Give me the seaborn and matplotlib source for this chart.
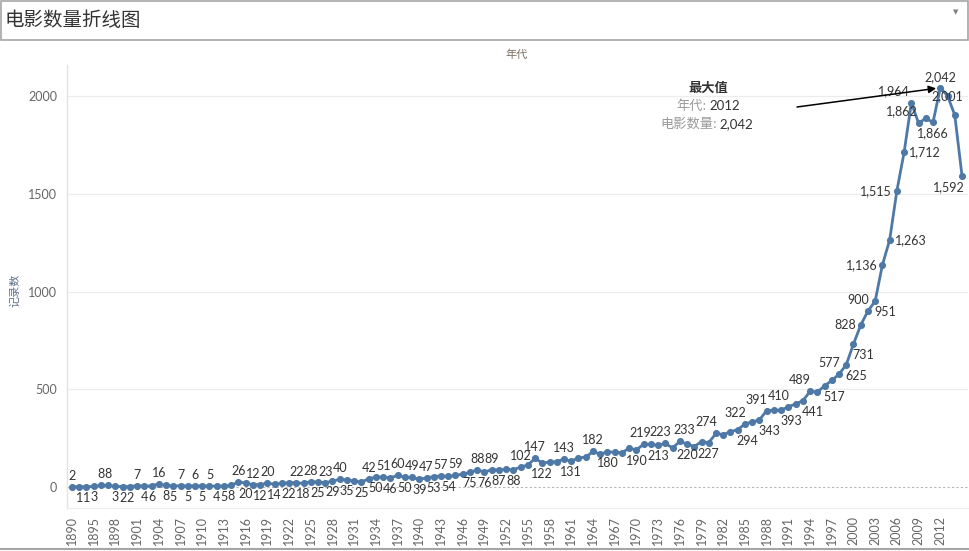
import numpy as np
import pandas as pd
import matplotlib
matplotlib.use("Agg")
import matplotlib.pyplot as plt
from matplotlib.patches import Rectangle
from matplotlib.lines import Line2D
import seaborn as sns

# ---------------- data ----------------
years = [1890, 1891, 1894] + list(range(1895, 2016))
counts = [
    2, 1, 1,                                   # 1890 1891 1894
    3, 8, 8, 3, 2, 2, 7, 4, 6, 16,             # 1895-1904
    8, 5, 7, 5, 6, 5, 5, 4, 5, 8,              # 1905-1914
    26, 20, 12, 12, 20, 14, 19, 22, 22, 18,    # 1915-1924
    28, 25, 23, 29, 40, 35, 32, 25, 42, 50,    # 1925-1934
    51, 46, 60, 50, 49, 39, 47, 53, 57, 54,    # 1935-1944
    59, 66, 75, 88, 76, 89, 87, 90, 88, 102,   # 1945-1954
    112, 147, 122, 128, 130, 143, 131, 150, 152, 182,   # 1955-1964
    168, 180, 178, 175, 199, 190, 219, 218, 213, 223,   # 1965-1974
    200, 233, 220, 207, 232, 227, 274, 268, 282, 294,   # 1975-1984
    322, 333, 343, 391, 392, 393, 410, 425, 441, 489,   # 1985-1994
    486, 517, 545, 577, 625, 731, 828, 900, 951, 1136,  # 1995-2004
    1263, 1515, 1712, 1964, 1862, 1885, 1866, 2042, 2001, 1903,  # 2005-2014
    1592,                                       # 2015
]
max_year, max_count = 2012, 2042
y_ticks = [0, 500, 1000, 1500, 2000]

df = pd.DataFrame({"年代": [str(y) for y in years], "记录数": counts})

# ---------------- label placement (style only) ----------------
above = [1890, 1896, 1897, 1901, 1904, 1907, 1909, 1911, 1915, 1917, 1919, 1923,
         1925, 1927, 1929, 1933, 1935, 1937, 1939, 1941, 1943, 1945, 1948, 1950,
         1954, 1956, 1960, 1964, 1971, 1974, 1976, 2012]
below = [1891, 1894, 1895, 1898, 1899, 1900, 1902, 1903, 1905, 1906, 1908, 1910,
         1912, 1913, 1914, 1916, 1918, 1920, 1922, 1924, 1926, 1928, 1930, 1932,
         1934, 1936, 1938, 1940, 1942, 1944, 1947, 1949, 1951, 1953, 1957, 1961,
         1966, 1970, 1973, 1977, 1980, 2011]
above_left = [1981, 1985, 1988, 1991, 1994, 1998, 2002]
above_left_wide = [2008, 2009]
below_right = [1984, 1987, 1990, 1993, 1996, 1999, 2000, 2003]
left = [2001, 2004, 2006]
right = [2005, 2007]
on_point = [2013]
below_left = [2015]
nudge_x = {1971: -3, 1974: -5, 1976: 4}   # small horizontal shifts, pixels

style = {}
for ys, s in [(above, (0, 5, "center", "bottom")), (below, (0, -5, "center", "top")),
              (above_left, (-10, 5, "center", "bottom")),
              (above_left_wide, (-17, 6, "center", "bottom")),
              (below_right, (10, -5, "center", "top")),
              (left, (-5, 0, "right", "center")), (right, (5, 0, "left", "center")),
              (on_point, (0, 0, "center", "center")),
              (below_left, (3, -5, "right", "top"))]:
    for y in ys:
        style[y] = s

# ---------------- figure ----------------
W, H = 970, 551
sns.set_theme(style="white")
plt.rcParams["font.family"] = ["Lato", "Noto Sans CJK SC", "DejaVu Sans"]

fig = plt.figure(figsize=(W / 100, H / 100), dpi=100)
fig.patch.set_facecolor("white")

def fx(px):
    return px / W

def fy(py):
    return 1 - py / H

ax = fig.add_axes([fx(67), fy(508), fx(968) - fx(67), fy(65) - fy(508)])
ax.set_facecolor("white")

line_color = "#4e79a7"
sns.pointplot(data=df, x="年代", y="记录数", order=df["年代"].tolist(),
              color=line_color, markers="o", markersize=3.6, linewidth=2.0,
              errorbar=None, ax=ax, zorder=3)

n = len(years)
ax.set_xlim(-0.69, n - 1 + 0.83)
ax.set_ylim(-107.4, 2158.6)

# grid
for v in y_ticks[1:]:
    ax.axhline(v, color="#ececec", lw=0.9, zorder=0)
ax.axhline(0, color="#b5b5b5", lw=0.8, ls=(0, (2, 2)), zorder=1)

# ticks
tick_pos = list(range(0, 121, 3))
ax.set_xticks(tick_pos)
ax.set_xticklabels([str(years[i]) for i in tick_pos], rotation=90,
                   fontsize=9, color="#666666")
ax.set_yticks(y_ticks)
ax.set_yticklabels([str(v) for v in y_ticks], fontsize=9, color="#666666")
ax.tick_params(axis="x", length=2, color="#dddddd", pad=4)
ax.tick_params(axis="y", length=0, pad=7)
ax.set_xlabel("")
ax.set_ylabel("")

for s in ["top", "right"]:
    ax.spines[s].set_visible(False)
ax.spines["left"].set_color("#e3e3e3")
ax.spines["bottom"].set_color("#eeeeee")
ax.spines["left"].set_linewidth(1.0)
ax.spines["bottom"].set_linewidth(0.8)

# data labels
for i, (yr, c) in enumerate(zip(years, counts)):
    if yr not in style:
        continue
    dx, dy, ha, va = style[yr]
    dx += nudge_x.get(yr, 0)
    ax.annotate(f"{c:,}", xy=(i, c), xytext=(dx, dy), textcoords="offset pixels",
                ha=ha, va=va, fontsize=9, color="#333333", zorder=4)

# max annotation
imax = years.index(max_year)
ax.annotate("", xy=(imax, max_count), xycoords="data",
            xytext=(797, H - 107), textcoords="figure pixels",
            arrowprops=dict(arrowstyle="-|>", color="black", lw=1.1,
                            shrinkA=0, shrinkB=3, mutation_scale=11), zorder=5)
fig.text(fx(708), fy(88), "最大值", ha="center", va="center", fontsize=9.5,
         fontweight="bold", color="#333333", family=["Noto Sans CJK SC"])
fig.text(fx(707), fy(106), "年代:", ha="right", va="center", fontsize=9.5,
         color="#9a9a9a", family=["Noto Sans CJK SC"])
fig.text(fx(709), fy(106), f"{max_year}", ha="left", va="center", fontsize=9.5,
         color="#333333")
fig.text(fx(717), fy(124), "电影数量:", ha="right", va="center", fontsize=9.5,
         color="#9a9a9a", family=["Noto Sans CJK SC"])
fig.text(fx(719), fy(124), f"{max_count:,}", ha="left", va="center", fontsize=9.5,
         color="#333333")

# headers
fig.text(fx(517), fy(55), "年代", ha="center", va="center", fontsize=8,
         color="#7a6f60", family=["Noto Sans CJK SC"])
fig.text(fx(15), fy(290), "记录数", ha="center", va="center", fontsize=8,
         rotation=90, color="#5d6f88", family=["Noto Sans CJK SC"])

# title box
fig.add_artist(Rectangle((fx(0.5), fy(40)), fx(967.5), fy(1.5) - fy(40),
                         transform=fig.transFigure, fill=False,
                         edgecolor="#a6a6a6", lw=1.2))
fig.text(fx(5), fy(21), "电影数量折线图", ha="left", va="center", fontsize=14,
         color="#333333", family=["Noto Sans CJK SC"])
fig.text(fx(956), fy(12), "▼", ha="center", va="center", fontsize=5,
         color="#808080", family=["DejaVu Sans"])

# bottom border
fig.add_artist(Line2D([0, 1], [fy(549), fy(549)], transform=fig.transFigure,
                      color="#a6a6a6", lw=1.5))

fig.savefig("out.png", dpi=100, facecolor="white")
